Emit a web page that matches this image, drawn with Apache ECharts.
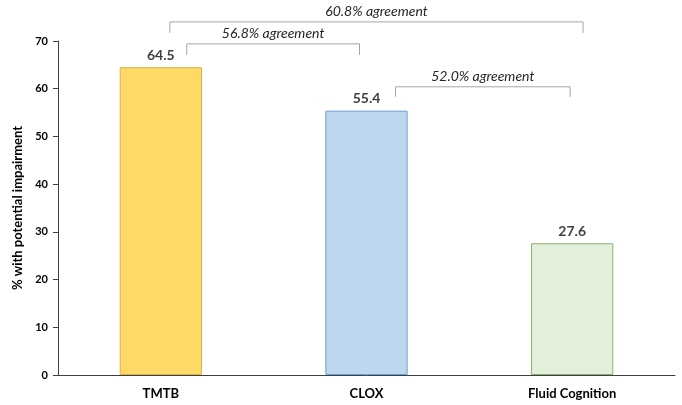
<!DOCTYPE html>
<html>
<head>
<meta charset="utf-8">
<script src="https://cdn.jsdelivr.net/npm/echarts@6/dist/echarts.min.js"></script>
<style>
  html, body { margin: 0; padding: 0; background: #fff; }
  #chart { width: 682px; height: 405px; }
</style>
</head>
<body>
<div id="chart"></div>
<script>
// data
const categories = ['TMTB', 'CLOX', 'Fluid Cognition']
const values = [64.5, 55.4, 27.6]
const fills = ['#FFD966', '#BDD7EE', '#E2EFDA']
const borders = ['#D6B04A', '#6A9FD8', '#8DB06E']

// agreement brackets: from category, to category, label
const bracketFrom = [0, 0, 1]
const bracketTo = [2, 1, 2]
const bracketLabels = ['60.8% agreement', '56.8% agreement', '52.0% agreement']
const bracketTop = [74.0, 69.4, 60.4]
const bracketFoot = [71.7, 67.1, 58.3]

const yTicks = [0, 10, 20, 30, 40, 50, 60, 70]

// horizontal offsets of bracket ends, as a share of the category band
const fromShift = [0.044, 0.126, 0.141]
const toShift = [0.053, -0.034, -0.01]

const myChart = echarts.init(document.getElementById('chart'))

const bracketData = bracketLabels.map((t, i) => [bracketFrom[i], bracketTo[i], bracketTop[i], bracketFoot[i], i])

myChart.setOption({
    animation: false,
    textStyle: { fontFamily: 'Lato' },
    grid: { left: 58, right: 7, top: 41, bottom: 30 },
    xAxis: {
        type: 'category',
        data: categories,
        z: 5,
        axisLine: { lineStyle: { color: '#404040', width: 1 } },
        axisTick: { show: false },
        axisLabel: { color: '#000', fontWeight: 'bold', fontSize: 13, margin: 12 }
    },
    yAxis: {
        type: 'value',
        min: 0,
        max: 70,
        interval: 10,
        name: '% with potential impairment',
        nameLocation: 'middle',
        nameGap: 33,
        nameTextStyle: { color: '#000', fontWeight: 'bold', fontSize: 13 },
        axisLine: { show: true, lineStyle: { color: '#404040' } },
        axisTick: { show: true, length: 5, lineStyle: { color: '#404040' } },
        axisLabel: { color: '#000', fontWeight: 'bold', fontSize: 11, margin: 10 },
        splitLine: { show: false }
    },
    series: [
        {
            type: 'bar',
            barWidth: '40%',
            data: values.map((v, i) => ({
                value: v,
                itemStyle: { color: fills[i], borderColor: borders[i], borderWidth: 1 }
            })),
            label: {
                show: true,
                position: 'top',
                distance: 5,
                color: '#404040',
                fontWeight: 'bold',
                fontSize: 14
            }
        },
        {
            type: 'custom',
            clip: false,
            silent: true,
            data: bracketData,
            renderItem: (params, api) => {
                const i = api.value(4)
                const band = api.size([1, 0])[0]
                const a = api.coord([api.value(0), api.value(2)])
                const b = api.coord([api.value(1), api.value(2)])
                const foot = api.coord([0, api.value(3)])[1]
                const x1 = a[0] + fromShift[i] * band
                const x2 = b[0] + toShift[i] * band
                const y = a[1]
                return {
                    type: 'group',
                    children: [
                        {
                            type: 'polyline',
                            shape: { points: [[x1, foot], [x1, y], [x2, y], [x2, foot]] },
                            style: { stroke: '#A6A6A6', lineWidth: 1, fill: null }
                        },
                        {
                            type: 'text',
                            style: {
                                text: bracketLabels[i],
                                x: (x1 + x2) / 2,
                                y: y - 3,
                                align: 'center',
                                verticalAlign: 'bottom',
                                fill: '#262626',
                                fontStyle: 'italic',
                                fontSize: 14,
                                fontFamily: 'Lato'
                            }
                        }
                    ]
                }
            }
        }
    ]
})
</script>
</body>
</html>
